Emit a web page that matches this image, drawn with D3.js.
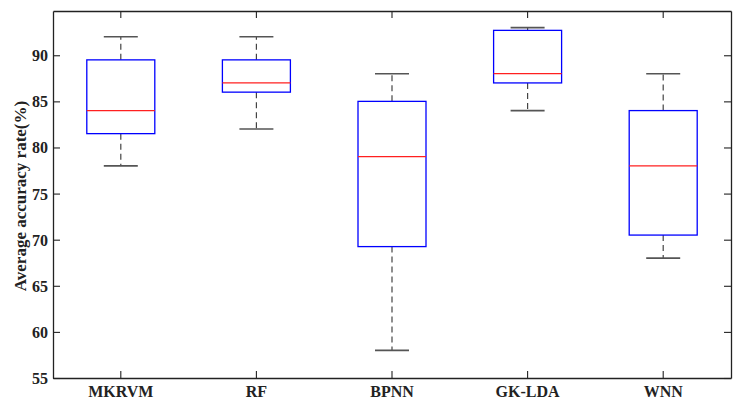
<!DOCTYPE html>
<html>
<head>
<meta charset="utf-8">
<script src="https://cdn.jsdelivr.net/npm/d3@7"></script>
<style>
  body { margin: 0; background: #fff; }
  text { font-family: 'Liberation Serif', 'Times New Roman', serif; font-weight: bold; }
</style>
</head>
<body>
<div id="chart"></div>
<script>
// box stats
const methods = ['MKRVM', 'RF', 'BPNN', 'GK-LDA', 'WNN']
const whiskerLow = [78, 82, 58, 84, 68]
const q1 = [81.5, 86, 69.25, 87, 70.5]
const medians = [84, 87, 79, 88, 78]
const q3 = [89.5, 89.5, 85, 92.7, 84]
const whiskerHigh = [92, 92, 88, 93, 88]
const yTicks = [55, 60, 65, 70, 75, 80, 85, 90]

const W = 736, H = 400
const margin = { top: 11, right: 5, bottom: 22, left: 53 }
const width = W - margin.left - margin.right
const height = H - margin.top - margin.bottom
const serif = "'Liberation Serif', 'Times New Roman', serif"

const svg = d3.select('#chart').append('svg')
  .attr('width', W).attr('height', H)
  .attr('font-family', serif)
const g = svg.append('g')
  .attr('transform', `translate(${margin.left},${margin.top})`)

const x = d3.scaleBand().domain(methods).range([0, width])
const y = d3.scaleLinear().domain([55, 94.8]).range([height, 0])
const boxW = 68
const capW = 34

const data = methods.map((m, i) => ({
  name: m, lo: whiskerLow[i], q1: q1[i], med: medians[i], q3: q3[i], hi: whiskerHigh[i]
}))
const cx = d => x(d.name) + x.bandwidth() / 2

// axes, ticks pointing inward
const leftAxis = g.append('g').call(d3.axisLeft(y).tickValues(yTicks).tickSizeInner(-7).tickSizeOuter(0).tickPadding(5))
const rightAxis = g.append('g').attr('transform', `translate(${width},0)`)
  .call(d3.axisRight(y).tickValues(yTicks).tickSizeInner(-7).tickSizeOuter(0))
rightAxis.selectAll('text').remove()
const bottomAxis = g.append('g').attr('transform', `translate(0,${height})`)
  .call(d3.axisBottom(x).tickSizeInner(-7).tickSizeOuter(0).tickPadding(8))
const topAxis = g.append('g')
  .call(d3.axisTop(x).tickSizeInner(-7).tickSizeOuter(0))
topAxis.selectAll('text').remove()

g.selectAll('.domain').attr('stroke', '#222').attr('stroke-width', 1.3)
g.selectAll('.tick line').attr('stroke', '#222').attr('stroke-width', 1.1)
g.selectAll('g').attr('font-family', serif)
g.selectAll('.tick text').attr('font-size', 16).attr('fill', '#222')
  .attr('font-family', serif).attr('font-weight', 'bold')
leftAxis.selectAll('.tick text').attr('dy', '0.34em')
bottomAxis.selectAll('.tick text').attr('dy', '0.71em')

const node = g.append('g').selectAll('g.box')
  .data(data)
  .enter().append('g').attr('class', 'box')

// whiskers
node.append('line')
  .attr('x1', cx).attr('x2', cx)
  .attr('y1', d => y(d.q3)).attr('y2', d => y(d.hi))
  .attr('stroke', '#444').attr('stroke-width', 1.2).attr('stroke-dasharray', '6,4')
node.append('line')
  .attr('x1', cx).attr('x2', cx)
  .attr('y1', d => y(d.q1)).attr('y2', d => y(d.lo))
  .attr('stroke', '#444').attr('stroke-width', 1.2).attr('stroke-dasharray', '6,4')

// caps
node.append('line')
  .attr('x1', d => cx(d) - capW / 2).attr('x2', d => cx(d) + capW / 2)
  .attr('y1', d => y(d.hi)).attr('y2', d => y(d.hi))
  .attr('stroke', '#555').attr('stroke-width', 1.6)
node.append('line')
  .attr('x1', d => cx(d) - capW / 2).attr('x2', d => cx(d) + capW / 2)
  .attr('y1', d => y(d.lo)).attr('y2', d => y(d.lo))
  .attr('stroke', '#555').attr('stroke-width', 1.6)

// boxes
node.append('rect')
  .attr('x', d => cx(d) - boxW / 2)
  .attr('y', d => y(d.q3))
  .attr('width', boxW)
  .attr('height', d => y(d.q1) - y(d.q3))
  .attr('fill', 'none')
  .attr('stroke', '#0000ff')
  .attr('stroke-width', 1.3)

// medians
node.append('line')
  .attr('x1', d => cx(d) - boxW / 2).attr('x2', d => cx(d) + boxW / 2)
  .attr('y1', d => y(d.med)).attr('y2', d => y(d.med))
  .attr('stroke', '#ff2020').attr('stroke-width', 1.2)

// y label
svg.append('text')
  .attr('transform', `translate(26,196) rotate(-90)`)
  .attr('text-anchor', 'middle')
  .attr('font-size', 17)
  .attr('font-weight', 'bold')
  .attr('fill', '#222')
  .text('Average accuracy rate(%)')
</script>
</body>
</html>
